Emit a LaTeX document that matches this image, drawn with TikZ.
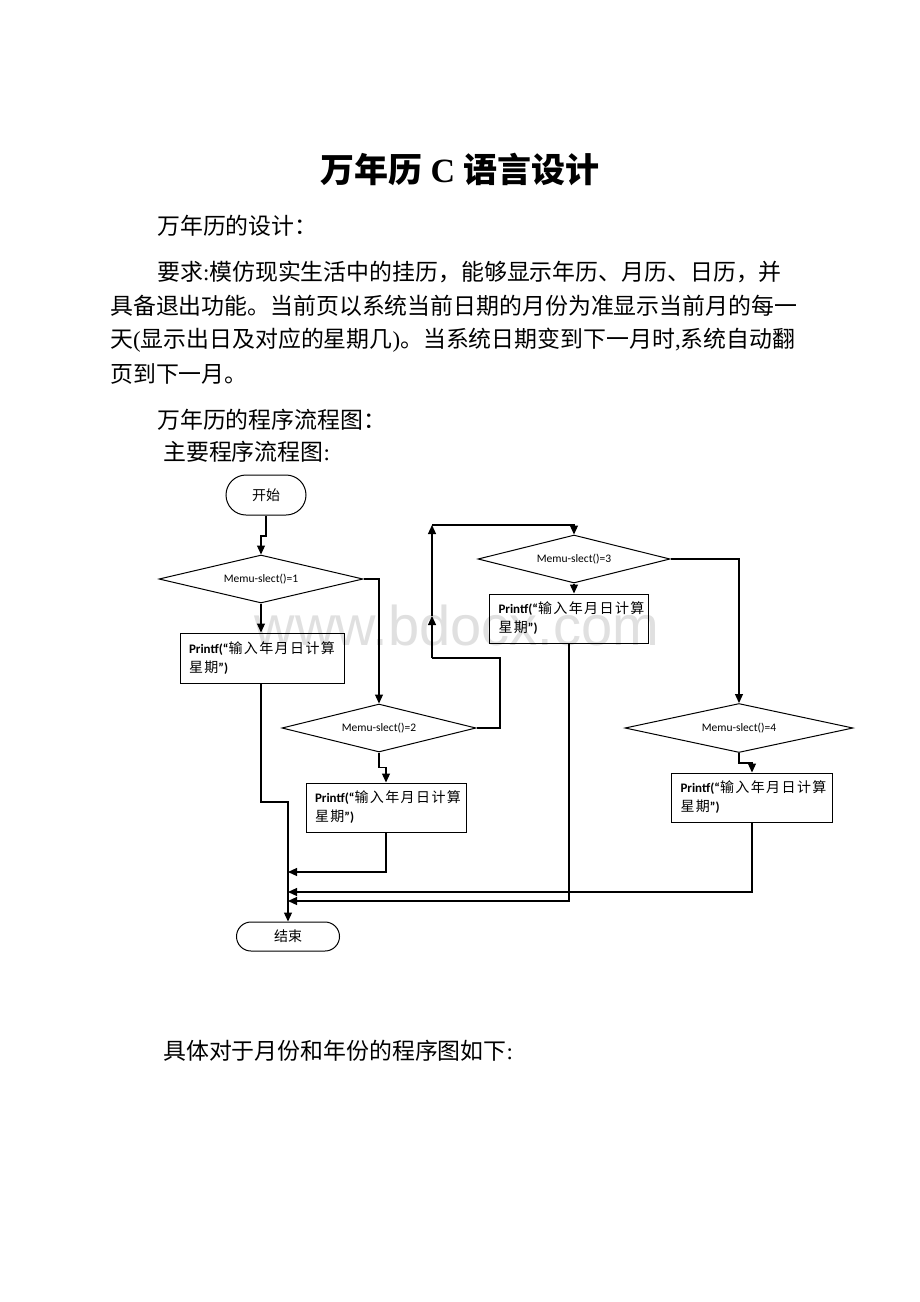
\documentclass[tikz,border=0pt]{standalone}
\usepackage{fontspec}
\setmainfont{Liberation Serif}
\newfontfamily\cjk{Noto Sans CJK SC}
\newfontfamily\cjks[LetterSpace=10]{Noto Sans CJK SC}
\newfontfamily\calf{Carlito}
\newfontfamily\wmf{Liberation Sans}
\usetikzlibrary{shapes.geometric,arrows.meta}
\newcommand{\ptxt}{{\calf\bfseries\fontsize{13}{19}\selectfont Printf(“}{\cjks\fontsize{14}{19}\selectfont 输入年月日计算}\\{\cjks\fontsize{14}{19}\selectfont 星期}{\calf\bfseries\fontsize{13}{19}\selectfont ”)}}
\newcommand{\lt}[1]{{\rmfamily #1}}
\begin{document}
\begin{tikzpicture}[x=1pt,y=-1pt,
  ln/.style={line width=1.2pt},
  arr/.style={ln,-{Triangle[length=9pt,width=8pt]}},
  term/.style={draw,line width=1pt,font=\cjk\fontsize{14}{16}\selectfont},
  dia/.style={diamond,draw,line width=1pt,inner sep=0pt,aspect=3,font=\calf\fontsize{11.5}{13}\selectfont},
  pbox/.style={draw,line width=1pt,align=left,inner xsep=9pt,inner ysep=0pt,font=\fontsize{13}{19}\selectfont},
  body/.style={anchor=west,inner sep=0pt,font=\cjk\fontsize{22.9}{30}\selectfont}]
\useasboundingbox (0,0) rectangle (920,1302);
\fill[white] (0,0) rectangle (920,1302);

% watermark
\node[anchor=base,font=\wmf\fontsize{56}{60}\selectfont,text=black!12,inner sep=0pt] (wm) at (457,645) {www.bdocx.com};

% texts
\node[inner sep=0pt,font=\fontsize{34}{40}\selectfont] (title) at (460,170) {{\cjk\bfseries 万年历} {\bfseries C} {\cjk\bfseries 语言设计}};
\node[body] (p1) at (157,226) {万年历的设计：};
\node[body] (p2) at (157,272) {要求\lt{:}模仿现实生活中的挂历，能够显示年历、月历、日历，并};
\node[body] (p3) at (110,306) {具备退出功能。当前页以系统当前日期的月份为准显示当前月的每一};
\node[body] (p4) at (110,340) {天\lt{(}显示出日及对应的星期几\lt{)}。当系统日期变到下一月时\lt{,}系统自动翻};
\node[body] (p5) at (110,374) {页到下一月。};
\node[body] (p6) at (157,420) {万年历的程序流程图：};
\node[body] (p7) at (163,452) {主要程序流程图\lt{:}};
\node[body] (p8) at (163,1051) {具体对于月份和年份的程序图如下\lt{:}};

% flowchart nodes
\node[term,rounded corners=20pt,minimum width=80pt,minimum height=40pt] (start) at (266,495) {开始};
\node[dia,minimum width=204pt,minimum height=48pt] (d1) at (261,579) {Memu-slect()=1};
\node[pbox,text width=146pt,minimum height=50pt] (b1) at (262,658) {\ptxt};
\node[dia,minimum width=194pt,minimum height=48pt] (d2) at (379,728) {Memu-slect()=2};
\node[pbox,text width=142pt,minimum height=49pt] (b2) at (386,807.5) {\ptxt};
\node[dia,minimum width=192pt,minimum height=48pt] (d3) at (574,559) {Memu-slect()=3};
\node[pbox,text width=141pt,minimum height=49pt] (b3) at (569,618.5) {\ptxt};
\node[dia,minimum width=228pt,minimum height=49pt] (d4) at (739,728) {Memu-slect()=4};
\node[pbox,text width=143pt,minimum height=49pt] (b4) at (752,797.5) {\ptxt};
\node[term,rounded corners=14.5pt,minimum width=103pt,minimum height=29pt] (end) at (288,936.5) {结束};

% helper coordinates
\coordinate (j1) at (261,536);
\coordinate (q1) at (500,658);
\coordinate (q2) at (432,658);
\coordinate (q3) at (432,616);
\coordinate (q4) at (432,525);
\coordinate (t0) at (288,802);
\coordinate (t1) at (288,872);
\coordinate (t2) at (288,892);
\coordinate (t3) at (288,901);

% connectors
\draw[arr] (start.south) |- (j1) -- (d1.north);
\draw[arr] (d1.south) -- (d1.south |- b1.north);
\draw[arr] (d1.east) -| (d2.north);
\draw[arr] (d2.south) -- ++(0,15) -| (b2.north);
\draw[ln] (d2.east) -| (q1) -- (q2);
\draw[arr] (q2) -- (q3);
\draw[arr] (q3) -- (q4);
\draw[arr] (q4) -| (d3.north);
\draw[arr] (d3.south) -- (d3.south |- b3.north);
\draw[arr] (d3.east) -| (d4.north);
\draw[arr] (d4.south) -- ++(0,10) -| (b4.north);
\draw[arr] (b1.south -| d1.south) |- (t0) -- (end.north);
\draw[arr] (b2.south) |- (t1);
\draw[arr] (b4.south) |- (t2);
\draw[arr] (b3.south) |- (t3);
\end{tikzpicture}
\end{document}
